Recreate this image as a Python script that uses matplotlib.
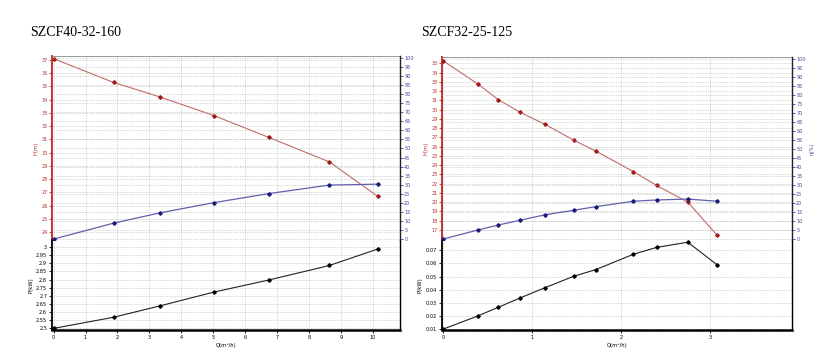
import matplotlib
matplotlib.use("Agg")
import matplotlib.pyplot as plt
import numpy as np

# ---------------- data: SZCF40-32-160 ----------------
title_a = "SZCF40-32-160"
q_a = [0.0, 1.88, 3.34, 5.02, 6.74, 8.64, 10.15]
h_a = [37.1, 35.3, 34.2, 32.8, 31.15, 29.3, 26.7]
eff_a = [0.0, 8.8, 14.5, 20.1, 25.1, 29.8, 30.3]
p_a = [2.497, 2.566, 2.637, 2.722, 2.797, 2.887, 2.989]
xticks_a = list(range(0, 11))
hticks_a = list(range(24, 38))
pticks_a = [2.5, 2.55, 2.6, 2.65, 2.7, 2.75, 2.8, 2.85, 2.9, 2.95, 3.0]
plabels_a = ["2.5", "2.55", "2.6", "2.65", "2.7", "2.75", "2.8", "2.85", "2.9", "2.95", "3"]

# ---------------- data: SZCF32-25-125 ----------------
title_b = "SZCF32-25-125"
q_b = [0.0, 0.39, 0.62, 0.87, 1.15, 1.47, 1.72, 2.14, 2.40, 2.75, 3.08]
h_b = [35.3, 32.8, 31.1, 29.7, 28.4, 26.7, 25.5, 23.3, 21.8, 20.0, 16.4]
eff_b = [0.0, 5.0, 7.8, 10.5, 13.5, 16.0, 18.0, 21.0, 21.7, 22.2, 21.0]
p_b = [0.0100, 0.0200, 0.0266, 0.0338, 0.0416, 0.0502, 0.0553, 0.0669, 0.0721, 0.0760, 0.0588]
xticks_b = [0, 1, 2, 3]
hticks_b = list(range(17, 36))
pticks_b = [0.01, 0.02, 0.03, 0.04, 0.05, 0.06, 0.07]
plabels_b = ["0.01", "0.02", "0.03", "0.04", "0.05", "0.06", "0.07"]

eff_ticks = list(range(0, 101, 5))

W, H = 832, 362
fig = plt.figure(figsize=(W / 100, H / 100), dpi=100)
fig.patch.set_facecolor("white")

RED_LINE = "#bf6a64"
RED_MK = "#a01818"
RED_TXT = "#b03030"
BLUE_LINE = "#6060ac"
BLUE_MK = "#1c1c78"
BLUE_TXT = "#4848a0"
GRID = dict(color="#b4b4b4", linestyle=(0, (1, 1.5)), linewidth=0.5)
TFS = 3.6


def box(x0, y0, x1, y1):
    return [x0 / W, 1 - y1 / H, (x1 - x0) / W, (y1 - y0) / H]


def panel(xl, xr, top_up, bot_up, bot_lo, q, h, eff, p, xlim, ylim_h, ylim_p,
          xticks, hticks, pticks, plabels, title, tx, eta_label):
    ax = fig.add_axes(box(xl, top_up, xr, bot_up))
    axl = fig.add_axes(box(xl, bot_up, xr, bot_lo), sharex=ax)
    ax2 = ax.twinx()

    # upper: head
    ax.plot(q, h, color=RED_LINE, lw=0.8, zorder=3)
    ax.plot(q, h, linestyle="none", marker="D", ms=1.8, color=RED_MK, zorder=4)
    ax.set_xlim(*xlim)
    ax.set_ylim(*ylim_h)
    ax.set_yticks(hticks)
    ax.set_yticklabels([str(t) for t in hticks])
    ax.set_xticks(xticks)
    ax.tick_params(axis="x", labelbottom=False, length=0)
    ax.tick_params(axis="y", colors=RED_TXT, labelsize=TFS, length=2, width=0.6, pad=1)
    ax.grid(True, **GRID)
    ax.spines["left"].set_color("#c02020")
    ax.spines["left"].set_linewidth(1.3)
    ax.spines["top"].set_color("#888888")
    ax.spines["top"].set_linewidth(0.6)
    ax.spines["bottom"].set_visible(False)
    ax.spines["right"].set_visible(False)
    ax.set_ylabel("H(m)", color=RED_TXT, fontsize=3.8, labelpad=2)

    # upper: efficiency
    ax2.plot(q, eff, color=BLUE_LINE, lw=0.9, zorder=3)
    ax2.plot(q, eff, linestyle="none", marker="D", ms=1.8, color=BLUE_MK, zorder=4)
    ax2.set_ylim(-0.5, 101)
    ax2.set_yticks(eff_ticks)
    ax2.set_yticklabels([str(t) for t in eff_ticks])
    ax2.tick_params(axis="y", colors=BLUE_TXT, labelsize=TFS, length=2, width=0.6, pad=1)
    ax2.yaxis.grid(True, **GRID)
    ax2.spines["right"].set_color("#222222")
    ax2.spines["right"].set_linewidth(1.0)
    for s in ("left", "top", "bottom"):
        ax2.spines[s].set_visible(False)
    if eta_label:
        ax2.set_ylabel("η(%)", color=BLUE_TXT, fontsize=3.8, labelpad=3)

    # lower: power
    axl.plot(q, p, color="#222222", lw=0.8, zorder=3)
    axl.plot(q, p, linestyle="none", marker="D", ms=1.8, color="black", zorder=4)
    axl.set_ylim(*ylim_p)
    axl.set_yticks(pticks)
    axl.set_yticklabels(plabels)
    axl.set_xticks(xticks)
    axl.set_xticklabels([str(t) for t in xticks])
    axl.tick_params(axis="both", labelsize=TFS, length=2, width=0.6, pad=1.5)
    axl.grid(True, **GRID)
    axl.spines["left"].set_linewidth(1.3)
    axl.spines["bottom"].set_linewidth(1.8)
    axl.spines["right"].set_linewidth(1.0)
    axl.spines["top"].set_visible(False)
    axl.set_ylabel("P(kW)", fontsize=3.8, labelpad=2)
    axl.set_xlabel("Q(m³/h)", fontsize=3.8, labelpad=2)

    fig.text(tx / W, 1 - 32 / H, title, fontsize=10, family="Liberation Serif",
             va="center", ha="left")


panel(52, 400, 56, 240, 330, q_a, h_a, eff_a, p_a, (-0.05, 10.85), (23.4, 37.3),
      (2.487, 3.045), xticks_a, hticks_a, pticks_a, plabels_a, title_a, 30, False)
panel(442, 792, 57, 240, 330, q_b, h_b, eff_b, p_b, (-0.01, 3.92), (15.9, 35.7),
      (0.0094, 0.0777), xticks_b, hticks_b, pticks_b, plabels_b, title_b, 421, True)

fig.savefig("out.png", dpi=100, facecolor="white")
